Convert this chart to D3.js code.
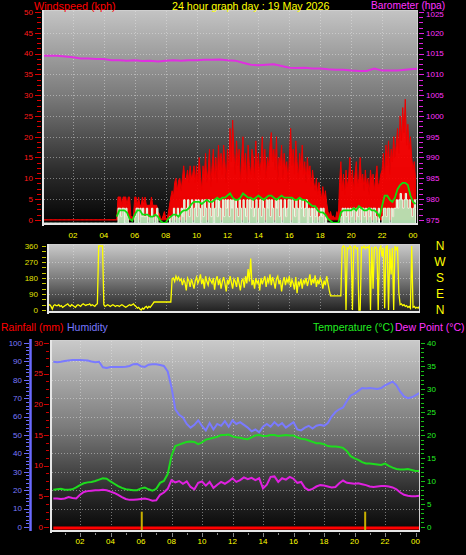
<!DOCTYPE html>
<html><head><meta charset="utf-8">
<script src="https://cdn.jsdelivr.net/npm/d3@7/dist/d3.min.js"></script>
<style>html,body{margin:0;padding:0;background:#000;overflow:hidden}svg{display:block}text{font-family:"Liberation Sans",Arial,sans-serif}</style>
</head><body><svg id="c" width="466" height="555"></svg>
<script>
// ---------- DATA ----------
const hourTicks = [2,4,6,8,10,12,14,16,18,20,22,24];
const hourLabels = ["02","04","06","08","10","12","14","16","18","20","22","00"];

// wind gust (kph), 5-minute samples from 00:00
const gustStart = 0, gustStep = 5/60;
const gust = [
0,0,0,0,0,0,0,0,0,0,0,0,
0,0,0,0,0,0,0,0,0,0,0,0,
0,0,0,0,0,0,0,0,0,0,0,0,
0,0,0,0,0,0,0,0,0,0,0,0,
0,0,0,0,0,0,0,0,0,0,0,5.5,
5.5,5.5,3.5,5.5,5.5,5.5,3.5,5.5,5.5,1,0.5,1,
5.5,5.5,3.5,5.5,3.5,3.5,5.5,3.5,5.5,3.5,3.5,3.5,
3.5,5.5,3.5,3.5,3.5,3.5,2,1.5,0.5,0,1,2,
0.5,0,1.5,3.5,5.5,7,5.5,9,10,7,9.5,10,
7,10,13,9.5,10,12,9,13,10,11,13,9,
13,9,15,11,7,13,10,16,9,12,17,8,
13,17,10,15,9,18,12,16,11,18,14,9,
17,12,22,14,24,16,11,19,13,17,9,15,
20,12,16,9,18,13,11,17,15,10,19,12,
16,11,14,20,12,17,10,15,13,18,21,14,
17,12,20,9,15,13,18,10,16,12,14,9,
15,22,13,17,11,19,14,10,16,12,18,11,
14,9,15,11,13,8,12,9,7,10,6,9,
7,5,8,5,7,4,2,1,2,0.5,1,0.5,
0.5,2,0.5,9,14,7,11,6,12,8,10,15,
9,12,7,11,14,8,10,15,9,11,7,12,
8,10,6,12,9,11,7,10,13,8,9,11,
12,16,10,18,13,19,11,17,14,20,15,18,
22,16,25,19,27,21,29,18,23,17,20,15,
12,14,10];

// wind speed (kph), 5-minute samples
const speedStart = 0, speedStep = 5/60;
const speed = [
0,0,0,0,0,0,0,0,0,0,0,0,
0,0,0,0,0,0,0,0,0,0,0,0,
0,0,0,0,0,0,0,0,0,0,0,0,
0,0,0,0,0,0,0,0,0,0,0,0,
0,0,0,0,0,0,0,0,0,0,0,3.5,
3.5,1.5,3.5,3.5,0,3.5,1.5,0,0,0,0,0,
1.5,3.5,3.5,0,3.5,1.5,3.5,1.5,1.5,3.5,0,1.5,
1.5,3.5,1.5,0,1.5,3.5,0,0,0,0,0,0,
0,0,0,1.5,0,1.5,3.5,0,1.5,3.5,1.5,0,
3.5,1.5,5.5,0,3.5,5.5,1.5,3.5,5.5,0,3.5,5.5,
1.5,5.5,3.5,0,5.5,1.5,5.5,3.5,0,5.5,3.5,1.5,
5.5,0,3.5,5.5,1.5,5.5,3.5,0,5.5,1.5,5.5,3.5,
5.5,1.5,5.5,3.5,5.5,0,5.5,3.5,1.5,5.5,3.5,0,
5.5,3.5,1.5,5.5,0,5.5,3.5,5.5,1.5,3.5,5.5,0,
3.5,5.5,1.5,5.5,3.5,0,5.5,3.5,5.5,1.5,5.5,3.5,
0,5.5,3.5,5.5,1.5,5.5,0,3.5,5.5,1.5,3.5,5.5,
5.5,0,5.5,3.5,1.5,5.5,3.5,0,5.5,3.5,5.5,1.5,
3.5,5.5,0,3.5,1.5,3.5,0,3.5,1.5,3.5,0,1.5,
3.5,1.5,3.5,0,1.5,0,0,0,0,0,0,0,
0,0,0,0,1.5,3.5,0,3.5,1.5,3.5,0,3.5,
1.5,3.5,3.5,0,3.5,1.5,3.5,0,3.5,3.5,1.5,3.5,
0,3.5,1.5,3.5,0,3.5,3.5,1.5,0,3.5,0,0,
1.5,3.5,3.5,1.5,3.5,3.5,0,3.5,1.5,3.5,3.5,5.5,
3.5,5.5,7,5.5,3.5,5.5,7,5.5,3.5,5.5,3.5,1.5,
3.5,5.5,3.5];

// average wind speed (kph), 10-minute samples from 04:50
const avgStart = 4 + 50/60, avgStep = 10/60;
const avgSpeed = [
1.5,
3,3,3,2.5,1,0.5,
2,3,3,2,2,2,
1.5,1.5,2,1.5,0.5,0,
0,1,1.5,2,2,1.5,
2.5,3,3,3.5,4.5,5,
5,5,4.5,5,5.5,5,
5,5.5,6,5.5,6,6,
6.5,7,6,5.5,5.5,6,
7,6.5,6,6,5.5,6,
6.5,6,5.5,6,6.5,6.5,
6,5.5,6,6.5,6,6,
6,6,5.5,5.5,6,5.5,
5.5,5,4.5,4,4,3,
2.5,2.5,2,1,0.5,0,
0,0,2.5,3,3,3,
3,3.5,3,4,3.5,3,
3,3.5,3,3,2.5,1.5,
4,6.5,6.5,5.5,5,6,
8,9,9.5,9.5,9,6.5,
5,4.5];

// barometer (hpa), 30-minute samples
const baroStart = 0, baroStep = 0.5;
const baro = [1014.5,1014.5,1014.5,1014.3,1014.1,1013.8,1013.8,1013.7,1013.7,1013.4,
1013.4,1013.3,1013.4,1013.2,1013.3,1013.1,1013.3,1013.4,1013.3,1013.4,
1013.4,1013.5,1013.5,1013.6,1013.4,1013.3,1012.8,1012.3,1012.2,1012.3,
1012.4,1012.0,1011.6,1011.5,1011.6,1011.4,1011.4,1011.2,1011.1,1011.1,
1010.9,1010.8,1010.8,1011.4,1010.9,1010.9,1010.9,1011.1,1011.3,1011.4];

// wind direction (degrees), 5-minute samples
const dirStart = 0, dirStep = 5/60;
const direction = [
25,20,30,25,20,25,30,20,5,25,30,25,
25,30,20,25,15,20,25,30,35,25,20,30,
25,20,15,25,30,25,20,30,35,30,25,30,
30,35,25,30,25,20,30,35,360,360,360,360,
30,20,25,30,25,20,25,30,25,20,25,25,
20,25,30,25,20,15,20,25,30,25,30,35,
25,20,10,15,5,0,10,5,15,20,10,20,
15,25,35,45,45,45,45,45,45,45,45,45,
45,45,45,45,45,175,180,160,190,170,185,165,
175,140,170,155,110,180,165,130,175,150,120,165,
185,150,170,200,145,175,120,190,160,140,180,165,
150,180,115,170,190,140,175,120,160,185,150,105,
170,145,190,155,120,175,160,130,185,150,110,165,
175,125,190,150,230,160,290,140,170,120,180,150,
165,110,180,145,170,190,130,175,155,200,140,185,
160,120,175,190,145,170,105,160,185,140,175,155,
190,130,170,150,115,185,95,160,140,175,120,170,
150,180,135,165,200,140,175,150,195,130,170,145,
180,160,120,165,140,190,150,110,80,80,80,80,
80,80,80,80,80,350,360,355,0,350,345,360,
350,0,355,360,345,350,0,0,355,350,360,345,
355,350,360,0,355,120,350,355,340,0,345,360,
300,350,10,355,360,0,345,200,350,0,360,340,
355,100,30,35,25,30,20,25,15,20,10,360,
15,20,10,15,10,20,15];

// bottom panel, 15-minute samples from 00:15
const climStart = 0.25, climStep = 0.25;
const humidity = [
89.8,89.6,89.8,90.2, 90.5,90.8,90.8,90.7, 90.6,90.5,90.0,89.6, 89.8,86.8,86.4,86.9,
87.0,87.0,87.0,87.1, 87.5,88.5,88.6,87.4, 87.0,88.2,88.4,88.4, 88.0,87.5,84.5,76.0,
64.0,61.0,59.5,56.0, 54.0,55.5,58.0,55.0, 52.5,56.5,53.0,56.0, 55.0,57.5,54.5,58.0,
56.0,57.0,55.5,54.0, 52.0,53.0,51.5,54.5, 56.0,54.5,57.0,55.0, 56.5,54.0,55.5,57.0,
53.0,52.5,54.0,55.0, 53.5,55.0,55.5,55.0, 56.5,60.0,62.5,64.0, 65.0,68.5,71.5,72.5,
74.0,75.5,75.3,75.5, 75.3,75.0,75.5,77.0, 78.0,79.0,77.0,73.5, 71.0,70.0,70.5,71.5,
72.8];
const temperature = [
8.1,8.2,8.3,8.1, 8.1,8.2,8.6,9.1, 9.5,9.7,9.8,10.0, 10.3,10.6,10.5,9.9,
9.4,8.9,8.5,8.2, 8.1,8.0,8.0,8.4, 8.6,8.2,7.9,8.3, 9.6,10.0,11.5,15.5,
17.6,17.9,18.2,18.5, 18.6,18.5,18.0,18.4, 19.0,19.2,19.4,19.6, 20.0,20.0,20.1,19.7,
19.5,19.4,19.2,19.1, 19.5,19.9,20.0,19.8, 19.8,20.0,20.0,19.8, 19.9,20.0,19.9,19.9,
19.5,19.2,19.1,18.8, 18.5,18.2,18.2,18.0, 17.6,17.5,17.5,17.4, 17.2,16.5,15.4,14.9,
14.6,14.1,13.8,13.8, 13.7,13.6,13.5,13.8, 13.3,12.9,12.6,12.5, 12.5,12.6,12.4,12.2,
12.2];
const dewPoint = [
6.2,6.2,6.1,6.2, 6.5,6.3,6.2,7.0, 7.6,7.8,7.9,8.0, 8.0,8.1,8.0,7.7,
7.4,7.0,6.5,6.1, 5.9,5.9,6.0,6.1, 6.2,6.0,5.7,5.8, 7.0,7.5,8.3,10.2,
9.7,10.0,9.4,9.9, 8.7,8.2,9.6,9.9, 9.0,9.8,8.5,9.2, 9.8,9.4,9.9,10.6,
9.8,10.2,10.8,10.4, 10.7,10.2,10.6,8.4, 9.2,10.9,11.0,9.8, 10.6,10.3,10.9,10.5,
9.6,9.8,8.5,8.0, 8.3,8.8,9.1,9.0, 8.8,8.6,8.7,9.5, 10.1,9.6,9.5,9.4,
9.5,9.3,9.1,8.8, 8.7,8.8,8.9,8.9, 8.8,8.6,8.2,7.5, 7.0,6.8,6.7,6.7,
6.8];
const rainHours = [0.25, 24.25];
const rainfall = [0, 0];
const sunEvents = [6.05, 20.7];   // sunrise / sunset markers
const sunMarkHeight = 2.5;        // in rainfall-axis units

// ---------- HELPERS ----------
const ser = (vals, start, step) => vals.map((v, i) => ({h: start + i * step, v}));
const svg = d3.select("#c");
const defs = svg.append("defs");
function grad(id, stops) {
  const g = defs.append("linearGradient").attr("id", id).attr("x1", 0).attr("y1", 0).attr("x2", 0).attr("y2", 1);
  stops.forEach(s => g.append("stop").attr("offset", s[0]).attr("stop-color", s[1]));
}
grad("gTop", [[0, "#c4c4c4"], [0.4, "#7a7a7a"], [0.75, "#2c2c2c"], [1, "#020202"]]);
grad("gDir", [[0, "#cacaca"], [0.5, "#7c7c7c"], [1, "#1c1c1c"]]);
grad("gBot", [[0, "#cacaca"], [0.45, "#7c7c7c"], [0.8, "#2a2a2a"], [1, "#060606"]]);
function clip(id, P) {
  defs.append("clipPath").attr("id", id).append("rect")
    .attr("x", P.x0).attr("y", P.y0).attr("width", P.x1 - P.x0).attr("height", P.y1 - P.y0);
}
function panel(P, gid) {
  svg.append("rect").attr("x", P.x0).attr("y", P.y0).attr("width", P.x1 - P.x0).attr("height", P.y1 - P.y0)
    .attr("fill", `url(#${gid})`);
}
function border(P) {
  svg.append("rect").attr("x", P.x0 + 0.5).attr("y", P.y0 + 0.5).attr("width", P.x1 - P.x0 - 1).attr("height", P.y1 - P.y0 - 1)
    .attr("fill", "none").attr("stroke", "#cfcfcf").attr("stroke-width", 1);
  svg.append("line").attr("x1", P.x0 + 1).attr("x2", P.x0 + 1).attr("y1", P.y0).attr("y2", P.y1 + 1)
    .attr("stroke", "#e6e6e6").attr("stroke-width", 2);
  svg.append("line").attr("x1", P.x0).attr("x2", P.x1).attr("y1", P.y1 - 1).attr("y2", P.y1 - 1)
    .attr("stroke", "#e6e6e6").attr("stroke-width", 2);
}
const gridStyle = s => s.attr("stroke", "rgba(235,235,235,0.45)").attr("stroke-width", 1).attr("stroke-dasharray", "1,2");
function vgrid(P, x) {
  hourTicks.slice(0, -1).forEach(h => {
    svg.append("line").attr("x1", Math.round(x(h)) + 0.5).attr("x2", Math.round(x(h)) + 0.5)
      .attr("y1", P.y0 + 1).attr("y2", P.y1 - 2).call(gridStyle);
  });
}
function hgrid(P, y, vals) {
  vals.forEach(v => svg.append("line").attr("x1", P.x0 + 2).attr("x2", P.x1 - 1)
    .attr("y1", Math.round(y(v)) + 0.5).attr("y2", Math.round(y(v)) + 0.5).call(gridStyle));
}
function ticksV(y, vals, x1, x2, col, w) {
  vals.forEach(v => svg.append("line").attr("x1", x1).attr("x2", x2)
    .attr("y1", Math.round(y(v)) + 0.5).attr("y2", Math.round(y(v)) + 0.5)
    .attr("stroke", col).attr("stroke-width", w || 1));
}
function labelsV(y, vals, x, anchor, col, size, dyFn) {
  vals.forEach(v => svg.append("text").attr("x", x).attr("y", y(v) + (dyFn ? dyFn(v) : 0)).attr("dy", "0.35em")
    .attr("text-anchor", anchor).attr("fill", col).attr("font-size", size || 8).text(v));
}
function text(x, y, s, col, size, anchor) {
  svg.append("text").attr("x", x).attr("y", y).attr("fill", col).attr("font-size", size)
    .attr("text-anchor", anchor || "start").text(s);
}

// ---------- TOP PANEL: wind + barometer ----------
const T = {x0: 42, x1: 418, y0: 10, y1: 225};
const xTop = d3.scaleLinear().domain([0, 24]).range([42, 413]);
const yWind = d3.scaleLinear().domain([-1, 50]).range([224, 12]);
const ySpd = d3.scaleLinear().domain([0, 50]).range([223, 12]);
const yBaro = d3.scaleLinear().domain([974, 1025]).range([224, 12]);
panel(T, "gTop"); clip("cTop", T);
vgrid(T, xTop); hgrid(T, yWind, d3.range(5, 50, 5));
const gT = svg.append("g").attr("clip-path", "url(#cTop)");
gT.append("path").datum(ser(gust, gustStart, gustStep))
  .attr("d", d3.area().x(d => xTop(d.h)).y0(yWind(0)).y1(d => yWind(d.v)))
  .attr("fill", "#ff0000").attr("fill-opacity", 0.92).attr("stroke", "#ee0000").attr("stroke-width", 1);
gT.append("path").datum(ser(speed, speedStart, speedStep))
  .attr("d", d3.area().x(d => xTop(d.h)).y0(T.y1).y1(d => ySpd(d.v)).curve(d3.curveStepAfter))
  .attr("fill", "#b6e6b6").attr("fill-opacity", 0.95).attr("stroke", "#eaffea").attr("stroke-width", 1);
gT.append("path").datum(ser(avgSpeed, avgStart, avgStep))
  .attr("d", d3.line().x(d => xTop(d.h)).y(d => ySpd(d.v)))
  .attr("fill", "none").attr("stroke", "#10dd10").attr("stroke-width", 1.8);
gT.append("path").datum(ser(baro, baroStart, baroStep))
  .attr("d", d3.line().x(d => xTop(d.h)).y(d => yBaro(d.v)))
  .attr("fill", "none").attr("stroke", "#e030e0").attr("stroke-width", 2);
border(T);
ticksV(yWind, d3.range(0, 50.01, 1.25), 37, 41, "#dd0000", 1);
ticksV(yWind, d3.range(0, 50.01, 5), 35, 41, "#dd0000", 1);
labelsV(yWind, d3.range(0, 51, 5), 33, "end", "#ff1a1a", 8);
ticksV(yBaro, d3.range(975, 1025.01, 1.25), 419, 423, "#dd22dd", 1);
ticksV(yBaro, d3.range(975, 1025.01, 5), 419, 424, "#dd22dd", 1);
labelsV(yBaro, d3.range(975, 1026, 5), 426, "start", "#ff33ff", 8, v => (v === 1025 ? 2.5 : 0));
hourTicks.forEach((h, i) => text(xTop(h), 238, hourLabels[i], "#ffff00", 8, "middle"));
text(34, 9.5, "Windspeed (kph)", "#ff0000", 10.8);
text(172, 9.5, "24 hour graph day : 19 May 2026", "#ffff00", 10.7);
text(371, 9, "Barometer (hpa)", "#ff33ff", 10.2);

// ---------- DIRECTION PANEL ----------
const D = {x0: 47, x1: 420, y0: 244, y1: 313};
const yDir = d3.scaleLinear().domain([0, 360]).range([310, 246]);
panel(D, "gDir"); clip("cDir", D);
vgrid(D, xTop); hgrid(D, yDir, [90, 180, 270]);
svg.append("g").attr("clip-path", "url(#cDir)").append("path").datum(ser(direction, dirStart, dirStep))
  .attr("d", d3.line().x(d => xTop(d.h)).y(d => yDir(d.v)))
  .attr("fill", "none").attr("stroke", "#ffff00").attr("stroke-width", 1.3);
border(D);
ticksV(yDir, d3.range(0, 361, 30), 42, 46, "#c8c800", 1);
labelsV(yDir, [360, 270, 180, 90, 0], 38, "end", "#e0e000", 8);
const compass = ["N", "W", "S", "E", "N"];
[360, 270, 180, 90, 0].forEach((v, i) => svg.append("text").attr("x", 440).attr("y", yDir(v)).attr("dy", "0.36em")
  .attr("text-anchor", "middle").attr("fill", "#ffff00").attr("font-size", 12).text(compass[i]));

// ---------- BOTTOM PANEL ----------
const B = {x0: 50, x1: 420, y0: 340, y1: 532};
const xBot = d3.scaleLinear().domain([0, 24]).range([49.5, 415.5]);
const yHum = d3.scaleLinear().domain([0, 100]).range([527, 343]);
const yRain = d3.scaleLinear().domain([0, 30]).range([527, 343]);
const yTemp = d3.scaleLinear().domain([0, 40]).range([527, 343]);
panel(B, "gBot"); clip("cBot", B);
vgrid(B, xBot); hgrid(B, yHum, d3.range(10, 100, 10));
const gB = svg.append("g").attr("clip-path", "url(#cBot)");
const lineB = y => d3.line().x(d => xBot(d.h)).y(d => y(d.v));
gB.append("path").datum(ser(humidity, climStart, climStep)).attr("d", lineB(yHum))
  .attr("fill", "none").attr("stroke", "#7a7aff").attr("stroke-width", 2);
gB.append("path").datum(ser(temperature, climStart, climStep)).attr("d", lineB(yTemp))
  .attr("fill", "none").attr("stroke", "#1edc1e").attr("stroke-width", 2);
gB.append("path").datum(ser(dewPoint, climStart, climStep)).attr("d", lineB(yTemp))
  .attr("fill", "none").attr("stroke", "#e020e0").attr("stroke-width", 2);
gB.append("path").datum(rainfall.map((v, i) => ({h: rainHours[i], v})))
  .attr("d", d3.line().x(d => xBot(d.h)).y(d => yRain(d.v) + 1))
  .attr("fill", "none").attr("stroke", "#ff0000").attr("stroke-width", 3);
sunEvents.forEach(h => gB.append("line").attr("x1", xBot(h)).attr("x2", xBot(h))
  .attr("y1", yRain(sunMarkHeight)).attr("y2", B.y1).attr("stroke", "#c8b000").attr("stroke-width", 2));
border(B);
// hour ticks under bottom panel
d3.range(1, 25).forEach(h => svg.append("line").attr("x1", Math.round(xBot(h)) + 0.5).attr("x2", Math.round(xBot(h)) + 0.5)
  .attr("y1", B.y1 + 1).attr("y2", B.y1 + (h % 2 ? 3 : 5)).attr("stroke", "#8a8a8a"));
hourTicks.forEach((h, i) => text(xBot(h), 544, hourLabels[i], "#ffff00", 8, "middle"));
// humidity axis
svg.append("line").attr("x1", 30.5).attr("x2", 30.5).attr("y1", 339).attr("y2", 531).attr("stroke", "#6a6aff").attr("stroke-width", 2.5);
ticksV(yHum, d3.range(0, 101, 2), 26, 29, "#6a6aff", 1);
ticksV(yHum, d3.range(0, 101, 10), 24, 29, "#6a6aff", 1);
labelsV(yHum, d3.range(0, 101, 10), 22, "end", "#7a7aff", 8);
// rain axis
ticksV(yRain, d3.range(0, 30.01, 1.25), 46, 49, "#cc0000", 1);
ticksV(yRain, d3.range(0, 30.01, 5), 44, 49, "#cc0000", 1);
labelsV(yRain, d3.range(0, 31, 5), 43, "end", "#ff1a1a", 8);
// temperature axis
ticksV(yTemp, d3.range(0, 40.01, 1), 421, 424, "#16c016", 1);
ticksV(yTemp, d3.range(0, 40.01, 5), 421, 425, "#16c016", 1);
labelsV(yTemp, d3.range(0, 41, 5), 427, "start", "#22ee22", 8);
text(1, 330.5, "Rainfall (mm)", "#ff0000", 10.5);
text(67, 330.5, "Humidity", "#7878ff", 10.5);
text(313, 330.5, "Temperature (°C)", "#22ee22", 10.5);
text(395, 330.5, "Dew Point (°C)", "#ff33ff", 10.5);
</script></body></html>
